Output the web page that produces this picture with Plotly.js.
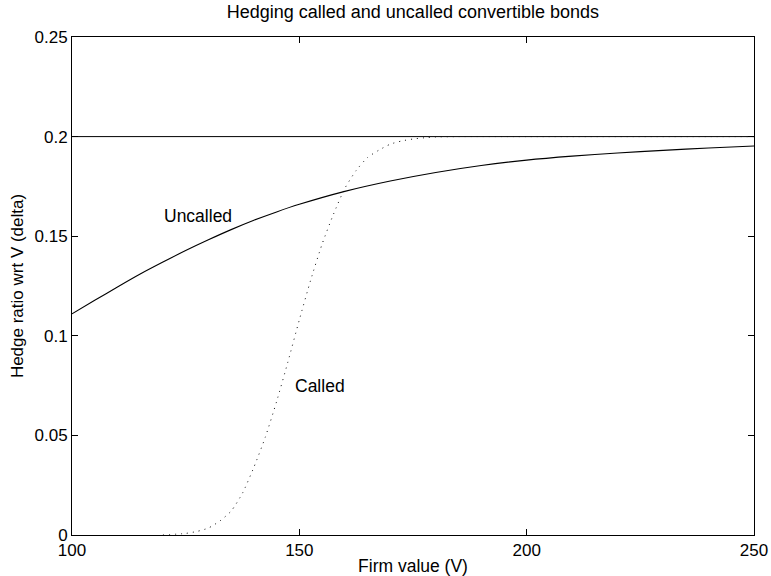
<!DOCTYPE html>
<html>
<head>
<meta charset="utf-8">
<script src="https://cdn.plot.ly/plotly-3.0.1.min.js"></script>
<style>html,body{margin:0;padding:0;background:#fff;}#chart{width:771px;height:576px;}</style>
</head>
<body>
<div id="chart"></div>
<script>
// Firm value grid and hedge ratios
var uncalledV = [100,105,110,115,120,125,130,135,140,145,150,160,170,180,190,200,210,220,230,240,250];
var uncalledDelta = [0.1110,0.1178,0.1245,0.1310,0.1370,0.1428,0.1482,0.1533,0.1580,0.1622,0.1660,0.1725,0.1777,0.1820,0.1855,0.1882,0.1902,0.1918,0.1931,0.1943,0.1953];

var calledV = [120,125,127.5,130,132.5,135,137.5,140,142.5,145,147.5,150,152.5,155,157.5,160,162.5,165,167.5,170,172.5,175,177.5,180,185,200,250];
var calledDelta = [0,0.0008,0.0018,0.0035,0.0070,0.0120,0.0210,0.0340,0.0490,0.0670,0.0870,0.1080,0.1280,0.1460,0.1610,0.1740,0.1830,0.1895,0.1932,0.1962,0.1978,0.1988,0.1994,0.1998,0.2,0.2,0.2];

var capV = [100,250];
var capDelta = [0.2,0.2];

var xTicks = [100,150,200,250];
var yTicks = [0,0.05,0.1,0.15,0.2,0.25];
var yTickText = ['0','0.05','0.1','0.15','0.2','0.25'];

var labelTexts = ['Uncalled','Called'];
var labelV = [127.7,154.5];
var labelDelta = [0.1601,0.0748];

var FONT = 'Liberation Sans, Arial, Helvetica, sans-serif';

var traces = [
  {x: capV, y: capDelta, mode: 'lines', line: {color: '#000', width: 1}, hoverinfo: 'skip'},
  {x: calledV, y: calledDelta, mode: 'lines', line: {color: '#111', width: 1, dash: '1px,5px', shape: 'spline', smoothing: 0.6}},
  {x: uncalledV, y: uncalledDelta, mode: 'lines', line: {color: '#000', width: 1.1, shape: 'spline', smoothing: 0.8}}
];

var annotations = labelTexts.map(function(t, i){
  return {x: labelV[i], y: labelDelta[i], xref: 'x', yref: 'y', text: t, showarrow: false,
          font: {family: FONT, size: 17.5, color: '#000'}, xanchor: 'center', yanchor: 'middle'};
});

var layout = {
  width: 771, height: 576,
  margin: {l: 72, r: 17, t: 37, b: 41, pad: 0},
  paper_bgcolor: '#fff', plot_bgcolor: '#fff',
  showlegend: false,
  font: {family: FONT, size: 17, color: '#000'},
  title: {text: 'Hedging called and uncalled convertible bonds', font: {family: FONT, size: 18, color: '#000'},
          x: 0.5355, xanchor: 'center', y: 0.979, yanchor: 'middle'},
  xaxis: {
    range: [100,250], tickvals: xTicks, ticktext: xTicks.map(String),
    showline: true, linecolor: '#000', linewidth: 1, mirror: 'ticks',
    ticks: 'inside', ticklen: 6, tickcolor: '#000', tickwidth: 1,
    showgrid: false, zeroline: false, layer: 'above traces',
    tickfont: {family: FONT, size: 17, color: '#000'},
    title: {text: 'Firm value (V)', font: {family: FONT, size: 17.5, color: '#000'}, standoff: 0}
  },
  yaxis: {
    range: [0,0.25], tickvals: yTicks, ticktext: yTickText,
    showline: true, linecolor: '#000', linewidth: 1, mirror: 'ticks',
    ticks: 'inside', ticklen: 6, tickcolor: '#000', tickwidth: 1,
    showgrid: false, zeroline: false, layer: 'above traces',
    tickfont: {family: FONT, size: 17, color: '#000'},
    title: {text: 'Hedge ratio wrt V (delta)', font: {family: FONT, size: 17, color: '#000'}, standoff: 6}
  },
  annotations: annotations
};

Plotly.newPlot('chart', traces, layout, {staticPlot: true, displayModeBar: false});
</script>
</body>
</html>
